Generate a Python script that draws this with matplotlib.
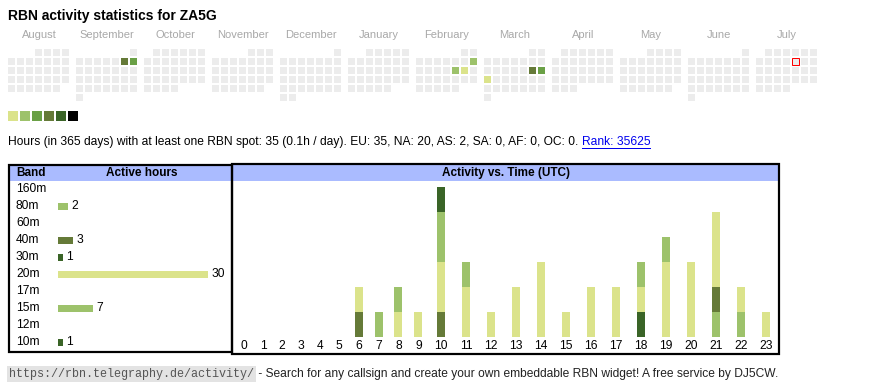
import datetime as dt
import matplotlib
matplotlib.use('Agg')
import matplotlib.pyplot as plt
from matplotlib.patches import Rectangle

plt.rcParams['font.family'] = ['Liberation Sans', 'DejaVu Sans']

# --- data -----------------------------------------------------------------
title = 'RBN activity statistics for ZA5G'
first_month = dt.date(2024, 8, 1)
month_names = ['August', 'September', 'October', 'November', 'December', 'January',
               'February', 'March', 'April', 'May', 'June', 'July']

# day -> activity level (1..6)
active_days = {
    '2024-09-07': 4, '2024-09-08': 3,
    '2025-02-09': 2, '2025-02-14': 2, '2025-02-15': 1,
    '2025-03-15': 4, '2025-03-16': 3, '2025-03-17': 1,
}
today = '2025-07-11'
level_colors = ['#dbe38b', '#9dc26b', '#6aa046', '#657a38', '#3a6427', '#000000']

summary = ('Hours (in 365 days) with at least one RBN spot: 35 (0.1h / day). '
           'EU: 35, NA: 20, AS: 2, SA: 0, AF: 0, OC: 0. ')
rank = 'Rank: 35625'

bands = ['160m', '80m', '60m', '40m', '30m', '20m', '17m', '15m', '12m', '10m']
band_hours = [0, 2, 0, 3, 1, 30, 0, 7, 0, 1]
band_colors = ['#dbe38b', '#9dc26b', '#6aa046', '#657a38', '#3a6427',
               '#dbe38b', '#9dc26b', '#9dc26b', '#657a38', '#3a6427']

hours = list(range(24))
# active hours per UTC hour, per band
hourly = {
    '80m': [0]*21 + [1, 1, 0],
    '40m': [0]*6 + [1, 0, 0, 0, 1] + [0]*10 + [1, 0, 0],
    '30m': [0]*18 + [1] + [0]*5,
    '20m': [0]*6 + [1, 0, 1, 1, 2, 2, 1, 2, 3, 1, 2, 2, 1, 3, 3, 3, 1, 1],
    '15m': [0]*7 + [1, 1, 0, 2, 1] + [0]*6 + [1, 1] + [0]*4,
    '10m': [0]*10 + [1] + [0]*13,
}

footer_url = 'https://rbn.telegraphy.de/activity/'
footer_text = ' - Search for any callsign and create your own embeddable RBN widget! A free service by DJ5CW.'

# --- layout ---------------------------------------------------------------
W, H = 870, 390
PT = 0.72  # points per pixel at dpi 100
FS = 8.65


def frac(x0, y0, x1, y1):
    return [x0 / W, 1 - y1 / H, (x1 - x0) / W, (y1 - y0) / H]


fig = plt.figure(figsize=(W / 100, H / 100), dpi=100)
bg = fig.add_axes([0, 0, 1, 1])
bg.set_xlim(0, W)
bg.set_ylim(H, 0)
bg.axis('off')

bg.text(8, 16, title, fontsize=10, fontweight='bold', va='center')

# calendar
for i, name in enumerate(month_names):
    y, m = divmod(first_month.month - 1 + i, 12)
    start = dt.date(first_month.year + y, m + 1, 1)
    x0 = 8 + 68 * i
    bg.text(x0 + 31, 35, name, fontsize=8, color='#a8a8a8', ha='center', va='center')
    d = start
    while d.month == start.month:
        row = (d.day - 1 + start.weekday()) // 7
        key = d.isoformat()
        lvl = active_days.get(key)
        fc = level_colors[lvl - 1] if lvl else '#ececec'
        ec = 'red' if key == today else 'none'
        bg.add_patch(Rectangle((x0 + 9 * d.weekday(), 49 + 9 * row), 7, 7,
                               facecolor=fc, edgecolor=ec, lw=1 * PT))
        d += dt.timedelta(days=1)

for k, c in enumerate(level_colors):
    bg.add_patch(Rectangle((8 + 12 * k, 111), 10, 10, facecolor=c, edgecolor='none'))

t = bg.text(8, 142, summary, fontsize=FS, va='center')
fig.canvas.draw()
r = fig.canvas.get_renderer()
x_end = t.get_window_extent(r).x1
lk = bg.text(x_end, 142, rank, fontsize=FS, va='center', color='#0000ee')
fig.canvas.draw()
bb = lk.get_window_extent(r)
bg.plot([bb.x0, bb.x1], [148, 148], color='#0000ee', lw=1 * PT)

# boxes and headers
bg.add_patch(Rectangle((9, 165), 224, 16, facecolor='#aabbff', edgecolor='none'))
bg.add_patch(Rectangle((233, 165), 546, 16, facecolor='#aabbff', edgecolor='none'))
bg.add_patch(Rectangle((9, 165), 223, 187, facecolor='none', edgecolor='black', lw=2.2 * PT))
bg.add_patch(Rectangle((232, 164), 547, 190, facecolor='none', edgecolor='black', lw=2.2 * PT))
bg.text(16, 173, 'Band', fontsize=8.5, fontweight='bold', va='center')
bg.text(141.5, 173, 'Active hours', fontsize=8.5, fontweight='bold', va='center', ha='center')
bg.text(506.5, 173, 'Activity vs. Time (UTC)', fontsize=8.5, fontweight='bold',
        va='center', ha='center')

# band bars
axb = fig.add_axes(frac(58, 180.5, 228, 350.5))
axb.barh(range(len(bands)), band_hours, height=7 / 17, color=band_colors)
axb.set_xlim(0, 34)
axb.set_ylim(len(bands) - 0.5, -0.5)
axb.set_xticks([])
axb.set_yticks([])
for s in axb.spines.values():
    s.set_visible(False)
axb.patch.set_alpha(0)
for i, (b, v) in enumerate(zip(bands, band_hours)):
    axb.annotate(b, (0, i), xytext=(-42 * PT, 0), textcoords='offset points',
                 ha='left', va='center', fontsize=FS, annotation_clip=False)
    if v:
        axb.annotate(str(v), (v, i), xytext=(3.5 * PT, 0), textcoords='offset points',
                     va='center', fontsize=FS)

# activity vs time
col_w = [19 if h < 6 else 20 if h < 10 else 25 for h in hours]
centers = []
acc = 234.5
for w in col_w:
    centers.append(acc + w / 2)
    acc += w
total = [sum(hourly[b][h] for b in hourly) for h in hours]
axa = fig.add_axes(frac(234.5, 187, 779, 337))
bottom = [0] * 24
for b, c in zip(bands, band_colors):
    if b not in hourly:
        continue
    axa.bar(centers, hourly[b], bottom=bottom, width=8, color=c)
    bottom = [p + q for p, q in zip(bottom, hourly[b])]
axa.set_xlim(234.5, 779)
axa.set_ylim(0, max(total))
axa.set_xticks(centers, [str(h) for h in hours])
axa.tick_params(axis='x', length=0, pad=2.5, labelsize=FS)
axa.set_yticks([])
for s in axa.spines.values():
    s.set_visible(False)
axa.patch.set_alpha(0)

# footer
f = bg.text(9, 374, footer_url, fontsize=8.5, family='Liberation Mono', color='#555555',
            va='center', bbox=dict(facecolor='#e3e3e3', edgecolor='none', pad=1.5))
fig.canvas.draw()
fx = f.get_window_extent(r).x1
bg.text(fx + 1.5, 374, footer_text, fontsize=FS, va='center', color='#222222')

fig.savefig('out.png', dpi=100)
